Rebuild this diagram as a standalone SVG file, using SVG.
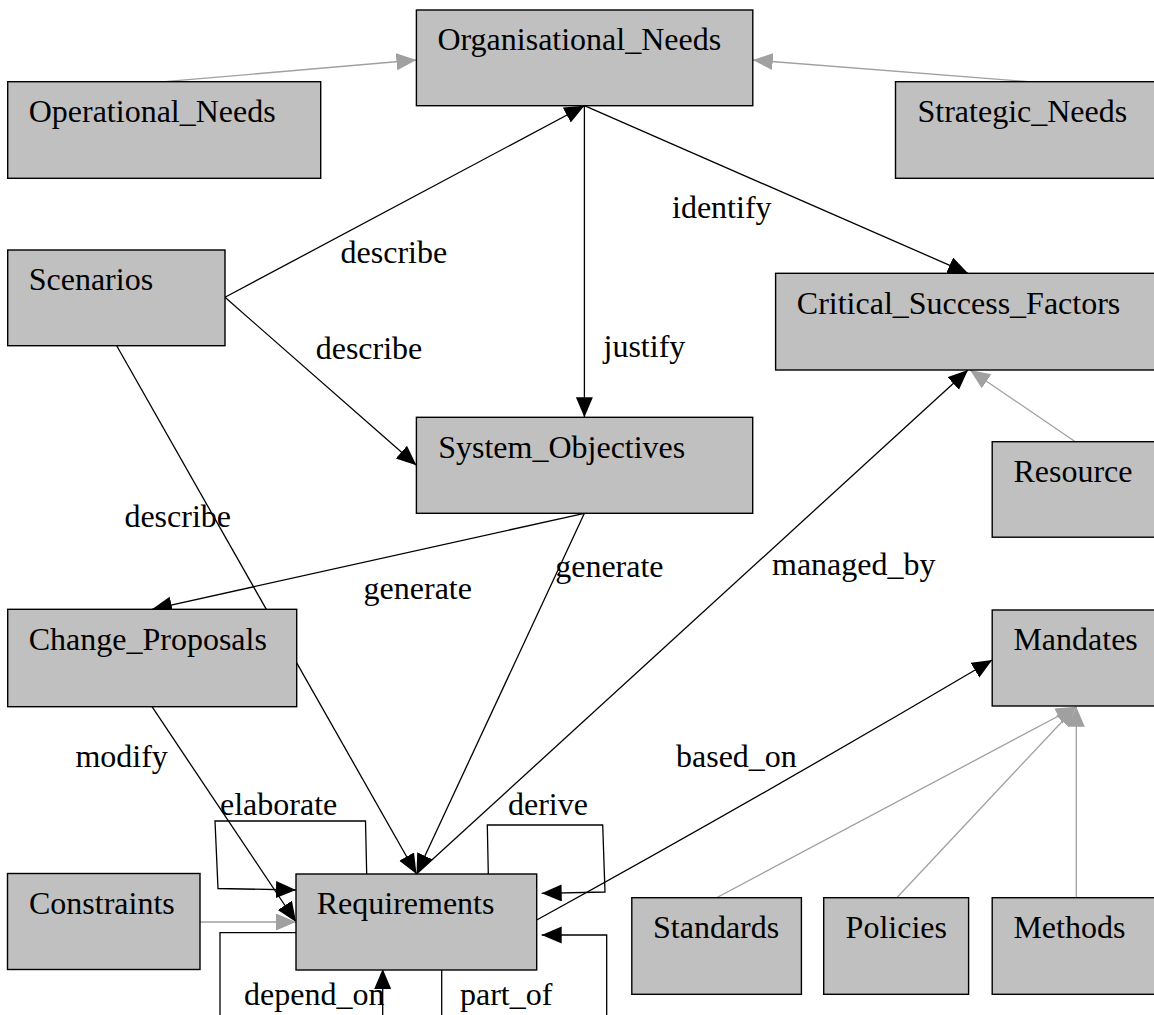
<svg xmlns="http://www.w3.org/2000/svg" width="1154" height="1015" viewBox="0 0 1154 1015">
<style>
.n rect{fill:#c0c0c0;stroke:#000;stroke-width:1.4}
text{font-family:"Liberation Serif","Times New Roman",serif;font-size:32px;fill:#000}
.e{fill:none;stroke:#000;stroke-width:1.3;marker-end:url(#ab)}
.g{fill:none;stroke:#a0a0a0;stroke-width:1.3;marker-end:url(#ag)}
</style>
<defs>
<marker id="ab" markerUnits="userSpaceOnUse" markerWidth="22" markerHeight="18" refX="20" refY="8.5" orient="auto" viewBox="0 0 22 18"><path d="M0,0 L20,8.5 L0,17 z" fill="#000"/></marker>
<marker id="ag" markerUnits="userSpaceOnUse" markerWidth="22" markerHeight="18" refX="20" refY="8.5" orient="auto" viewBox="0 0 22 18"><path d="M0,0 L20,8.5 L0,17 z" fill="#a0a0a0"/></marker>
</defs>
<rect width="1154" height="1015" fill="#fff"/>
<g id="connectors">
<path class="g" d="M164.6,81.7 L416.4,60"/>
<path class="g" d="M1028.4,81.7 L752.8,60"/>
<path class="e" d="M225,297.3 L584.4,105.7"/>
<path class="e" d="M584.4,105.7 L584.4,417.3"/>
<path class="e" d="M584.4,105.7 L968,273.3"/>
<path class="e" d="M225,297.3 L416.4,465.3"/>
<path class="e" d="M116.7,345.7 L416.5,874"/>
<path class="e" d="M584.4,513.3 L152,609.3"/>
<path class="e" d="M584.4,513.3 L416.5,874"/>
<path class="e" d="M416.5,874 L968,370"/>
<path class="g" d="M1075.3,441.7 L970,370"/>
<path class="e" d="M152,706.7 L296,922"/>
<path class="g" d="M200,922 L296,922"/>
<path class="e" d="M366.7,874 L365.5,821 L215,821 L218,888.5 L296,890"/>
<path class="e" d="M488.3,874 L487.3,825 L602.7,825 L605,892 L541.7,893.3"/>
<path class="e" d="M441.7,970 L441.7,1030 L606.7,1030 L606.7,935 L541.7,935"/>
<path class="e" d="M296,932.7 L220,932.7 L220,1030 L382.7,1030 L382.7,969"/>
<path class="e" d="M536.7,920 Q760,797 992.2,660"/>
<path class="g" d="M716.6,897.7 L1076,706.7"/>
<path class="g" d="M896.8,897.7 L1076,706.7"/>
<path class="g" d="M1076.3,897.7 L1076.3,706.7"/>
<text x="340.6" y="263">describe</text>
<text x="315.7" y="359">describe</text>
<text x="124.4" y="527">describe</text>
<text x="603.5" y="357">justify</text>
<text x="672" y="218">identify</text>
<text x="363.6" y="599">generate</text>
<text x="555.2" y="577">generate</text>
<text x="772" y="575">managed_by</text>
<text x="75.4" y="767">modify</text>
<text x="676" y="767">based_on</text>
<text x="220" y="815">elaborate</text>
<text x="508" y="815">derive</text>
<text x="244" y="1005">depend_on</text>
<text x="460" y="1005">part_of</text>
</g>
<g id="Organisational_Needs" class="n"><rect x="416.4" y="10" width="336.4" height="95.7"/><text x="437.4" y="50.3">Organisational_Needs</text></g>
<g id="Operational_Needs" class="n"><rect x="7.7" y="81.7" width="313" height="96.6"/><text x="28.7" y="122">Operational_Needs</text></g>
<g id="Strategic_Needs" class="n"><rect x="895.5" y="81.7" width="265" height="96.6"/><text x="917.5" y="122">Strategic_Needs</text></g>
<g id="Scenarios" class="n"><rect x="7.7" y="250" width="217.3" height="95.7"/><text x="28.7" y="290">Scenarios</text></g>
<g id="Critical_Success_Factors" class="n"><rect x="775.6" y="273.3" width="385" height="96.7"/><text x="796.8" y="313.5">Critical_Success_Factors</text></g>
<g id="System_Objectives" class="n"><rect x="416.4" y="417.3" width="336.3" height="96"/><text x="438.2" y="458">System_Objectives</text></g>
<g id="Resource" class="n"><rect x="992.2" y="441.7" width="168" height="95.5"/><text x="1013.4" y="481.7">Resource</text></g>
<g id="Change_Proposals" class="n"><rect x="7.7" y="609.3" width="289" height="97.4"/><text x="28.7" y="649.5">Change_Proposals</text></g>
<g id="Mandates" class="n"><rect x="992.2" y="610" width="168" height="96"/><text x="1013.4" y="650">Mandates</text></g>
<g id="Constraints" class="n"><rect x="7.5" y="873.5" width="192.5" height="96"/><text x="29" y="913.8">Constraints</text></g>
<g id="Requirements" class="n"><rect x="296" y="874" width="240.7" height="96"/><text x="316.7" y="914.3">Requirements</text></g>
<g id="Standards" class="n"><rect x="631.8" y="897.7" width="169.6" height="96.6"/><text x="653" y="938">Standards</text></g>
<g id="Policies" class="n"><rect x="823.7" y="897.7" width="144.9" height="96.6"/><text x="845.6" y="938">Policies</text></g>
<g id="Methods" class="n"><rect x="992.2" y="897.7" width="168" height="96.6"/><text x="1013.4" y="938">Methods</text></g>
</svg>
